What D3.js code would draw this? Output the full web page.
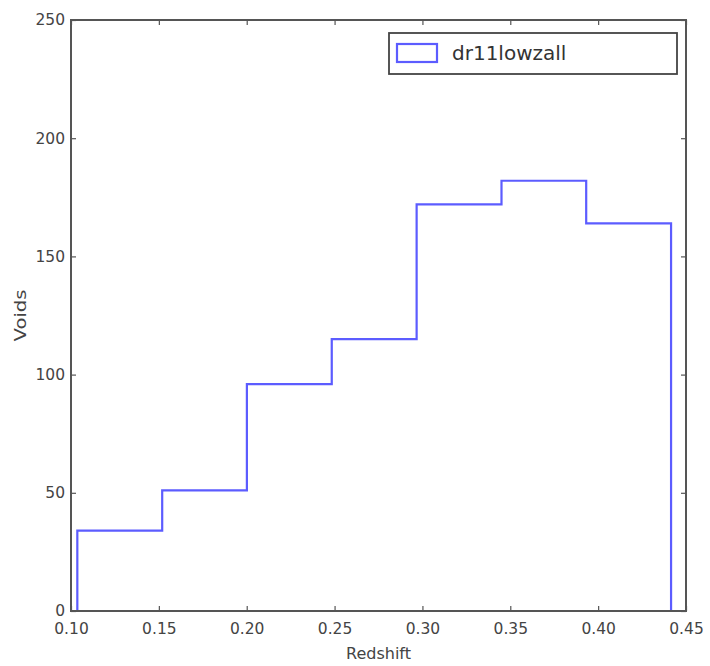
<!DOCTYPE html>
<html>
<head>
<meta charset="utf-8">
<script src="https://cdn.jsdelivr.net/npm/d3@7"></script>
<style>
  html, body { margin: 0; padding: 0; background: #fff; }
  svg { display: block; }
  text { font-family: "DejaVu Sans", sans-serif; }
</style>
</head>
<body>
<svg id="chart" width="710" height="666"></svg>
<script>
// Histogram of void redshifts (step outline)
const binEdges = [0.1036, 0.1519, 0.2001, 0.2484, 0.2967, 0.3450, 0.3932, 0.4415];
const voidCounts = [34, 51, 96, 115, 172, 182, 164];
const seriesName = "dr11lowzall";
const xTicks = [0.10, 0.15, 0.20, 0.25, 0.30, 0.35, 0.40, 0.45];
const yTicks = [0, 50, 100, 150, 200, 250];

const svg = d3.select("#chart");
const margin = { left: 71, right: 24, top: 20, bottom: 55 };
const W = 710, H = 666;

const x = d3.scaleLinear().domain([0.10, 0.45]).range([margin.left, W - margin.right]);
const y = d3.scaleLinear().domain([0, 250]).range([H - margin.bottom, margin.top]);

const axisColor = "#555";
const labelColor = "#444";

// inward ticks on all four sides
const tickLen = 5;
const xAxisB = d3.axisBottom(x).tickValues(xTicks).tickSizeInner(-tickLen).tickSizeOuter(0).tickPadding(12).tickFormat(d3.format(".2f"));
const xAxisT = d3.axisTop(x).tickValues(xTicks).tickSizeInner(-tickLen).tickSizeOuter(0).tickFormat("");
const yAxisL = d3.axisLeft(y).tickValues(yTicks).tickSizeInner(-tickLen).tickSizeOuter(0).tickPadding(6).tickFormat(d3.format("d"));
const yAxisR = d3.axisRight(y).tickValues(yTicks).tickSizeInner(-tickLen).tickSizeOuter(0).tickFormat("");

function style(g) {
  g.select(".domain").remove();
  g.selectAll(".tick line").attr("stroke", axisColor).attr("stroke-width", 1.2);
  g.selectAll(".tick text").attr("fill", labelColor).attr("font-size", 15.5).attr("font-family", "DejaVu Sans, sans-serif");
}

svg.append("g").attr("transform", `translate(0,${y(0)})`).call(xAxisB).call(style);
svg.append("g").attr("transform", `translate(0,${y(250)})`).call(xAxisT).call(style);
svg.append("g").attr("transform", `translate(${x(0.10)},0)`).call(yAxisL).call(style);
svg.append("g").attr("transform", `translate(${x(0.45)},0)`).call(yAxisR).call(style);

// step outline
const pts = [[binEdges[0], 0]];
voidCounts.forEach((v, i) => {
  pts.push([binEdges[i], v]);
  pts.push([binEdges[i + 1], v]);
});
pts.push([binEdges[binEdges.length - 1], 0]);

const line = d3.line().x(d => x(d[0])).y(d => y(d[1]));
svg.append("path")
  .datum(pts)
  .attr("d", line)
  .attr("fill", "none")
  .attr("stroke", "#5c5cff")
  .attr("stroke-width", 2.2)
  .attr("stroke-linejoin", "miter");

// frame
svg.append("rect")
  .attr("x", x(0.10)).attr("y", y(250))
  .attr("width", x(0.45) - x(0.10)).attr("height", y(0) - y(250))
  .attr("fill", "none").attr("stroke", axisColor).attr("stroke-width", 2);

// axis titles
svg.append("text")
  .attr("x", (x(0.10) + x(0.45)) / 2).attr("y", 659)
  .attr("text-anchor", "middle").attr("font-size", 16).attr("fill", labelColor)
  .text("Redshift");
svg.append("text")
  .attr("transform", `translate(26,${(y(0) + y(250)) / 2}) rotate(-90)`)
  .attr("text-anchor", "middle").attr("font-size", 16).attr("fill", labelColor)
  .attr("textLength", 52).attr("lengthAdjust", "spacingAndGlyphs")
  .text("Voids");

// legend
const lg = svg.append("g");
lg.append("rect")
  .attr("x", 389).attr("y", 33).attr("width", 288).attr("height", 41)
  .attr("fill", "#fff").attr("stroke", "#444").attr("stroke-width", 1.8);
lg.append("rect")
  .attr("x", 397).attr("y", 44).attr("width", 40).attr("height", 18)
  .attr("fill", "none").attr("stroke", "#5c5cff").attr("stroke-width", 2.2);
lg.append("text")
  .attr("x", 452).attr("y", 60)
  .attr("font-size", 20).attr("fill", "#333")
  .text(seriesName);
</script>
</body>
</html>
